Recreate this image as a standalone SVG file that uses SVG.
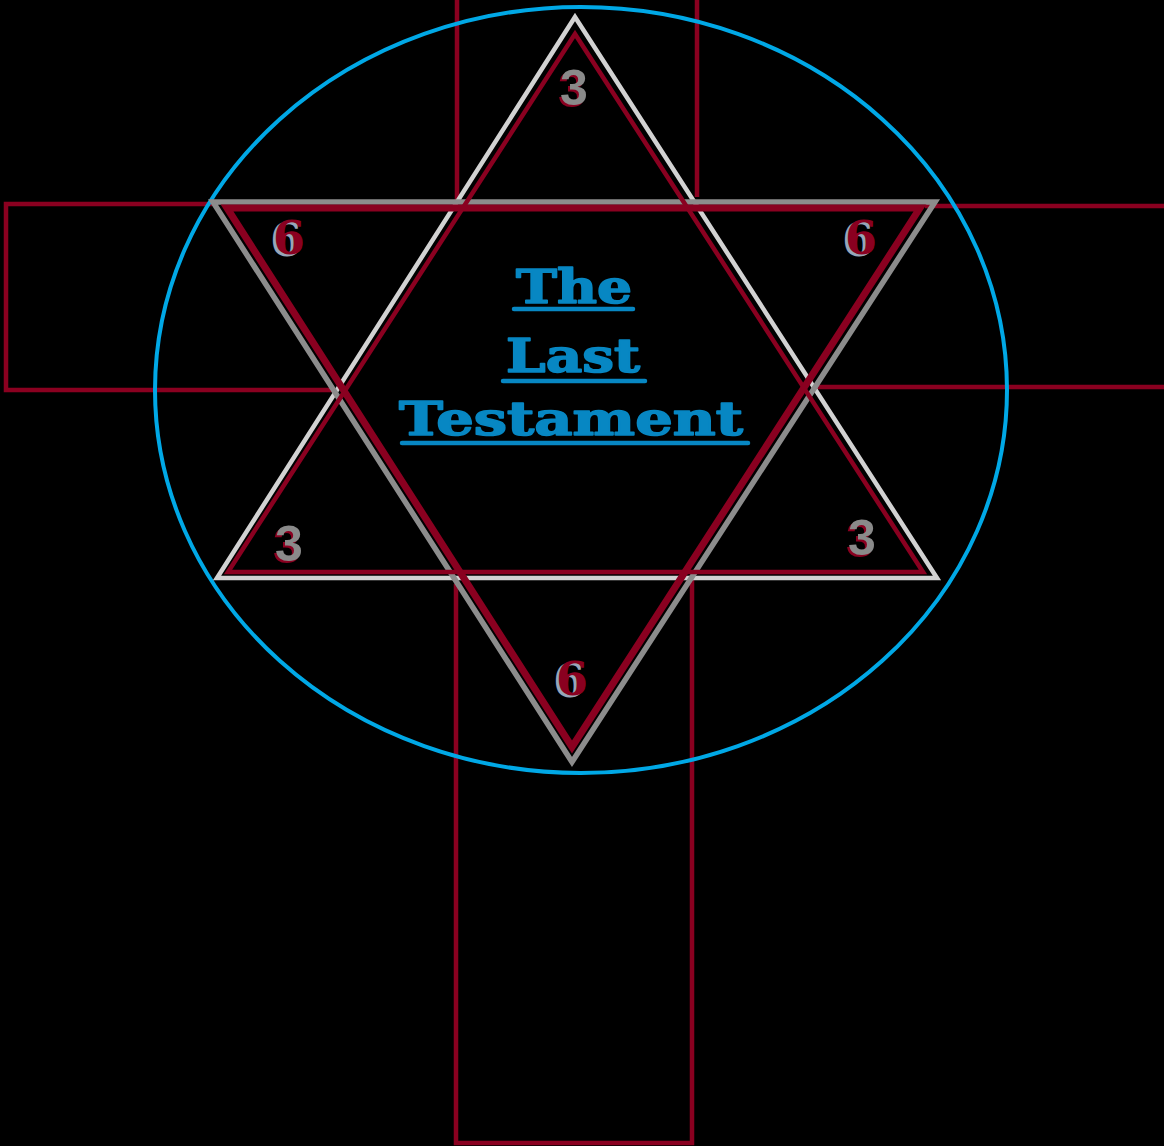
<svg xmlns="http://www.w3.org/2000/svg" width="1164" height="1146" viewBox="0 0 1164 1146">
<style>
.red{stroke:#8a0020;fill:none}
.cross{stroke:#8a0020;stroke-width:4.5;fill:none}
.t{font-family:"DejaVu Serif","Liberation Serif",serif;font-weight:bold;font-size:46px;fill:#0787c3;stroke:#0787c3;stroke-width:1.6;stroke-linejoin:round;text-anchor:middle}
.ul{stroke:#0787c3;stroke-width:4.5;stroke-linecap:round}
.six{font-family:"DejaVu Serif","Liberation Serif",serif;font-weight:bold;font-size:46px;text-anchor:middle}
.three{font-family:"Liberation Sans","DejaVu Sans",sans-serif;font-weight:bold;font-size:50px;text-anchor:middle}
</style>
<rect width="1164" height="1146" fill="#000"/>
<g id="cross">
<polyline class="cross" points="457,0 457,200"/>
<polyline class="cross" points="697,0 697,197"/>
<polyline class="cross" points="212,204 6,204 6,390 332,390"/>
<polyline class="cross" points="925,206 1164,206"/>
<polyline class="cross" points="815,387 1164,387"/>
<polyline class="cross" points="456,584 456,1143 692,1143 692,580"/>
</g>
<g id="circle">
<ellipse cx="581" cy="390" rx="426" ry="383" fill="none" stroke="#00a8e6" stroke-width="4"/>
</g>
<g id="star">
<polygon id="up-light" points="575,17 937,578 217,578" fill="none" stroke="#d2d2d2" stroke-width="4.5"/>
<polygon id="down-gray" points="213,202 935,202 572,762" fill="none" stroke="#8c8c8c" stroke-width="5.5"/>
<polygon id="up-red" class="red" points="575,34 923,572 228,572" stroke-width="4.5"/>
<polygon id="down-red" class="red" points="227,208 920,208 572,747" stroke-width="7"/>
</g>
<g id="numbers">
<g id="n-top"><text class="three" x="572" y="107" fill="#8a0020">3</text><text class="three" x="574" y="105" fill="#8a8a8a">3</text></g>
<g id="n-tl"><text class="six" x="286" y="256" fill="#9aa6b8">6</text><text class="six" x="289" y="254" fill="#8a0020">6</text></g>
<g id="n-tr"><text class="six" x="858" y="256" fill="#9aa6b8">6</text><text class="six" x="861" y="254" fill="#8a0020">6</text></g>
<g id="n-bl"><text class="three" x="287" y="563" fill="#8a0020">3</text><text class="three" x="289" y="561" fill="#8a8a8a">3</text></g>
<g id="n-br"><text class="three" x="860" y="557" fill="#8a0020">3</text><text class="three" x="862" y="555" fill="#8a8a8a">3</text></g>
<g id="n-bottom"><text class="six" x="569" y="697" fill="#9aa6b8">6</text><text class="six" x="572" y="695" fill="#8a0020">6</text></g>
</g>
<g id="title">
<text class="t" x="574" y="303" textLength="116" lengthAdjust="spacingAndGlyphs">The</text>
<line class="ul" x1="514" y1="309" x2="633" y2="309"/>
<text class="t" x="573" y="372" textLength="134" lengthAdjust="spacingAndGlyphs">Last</text>
<line class="ul" x1="503" y1="381" x2="645" y2="381"/>
<text class="t" x="571" y="435" textLength="344" lengthAdjust="spacingAndGlyphs">Testament</text>
<line class="ul" x1="402" y1="443" x2="748" y2="443"/>
</g>
</svg>
